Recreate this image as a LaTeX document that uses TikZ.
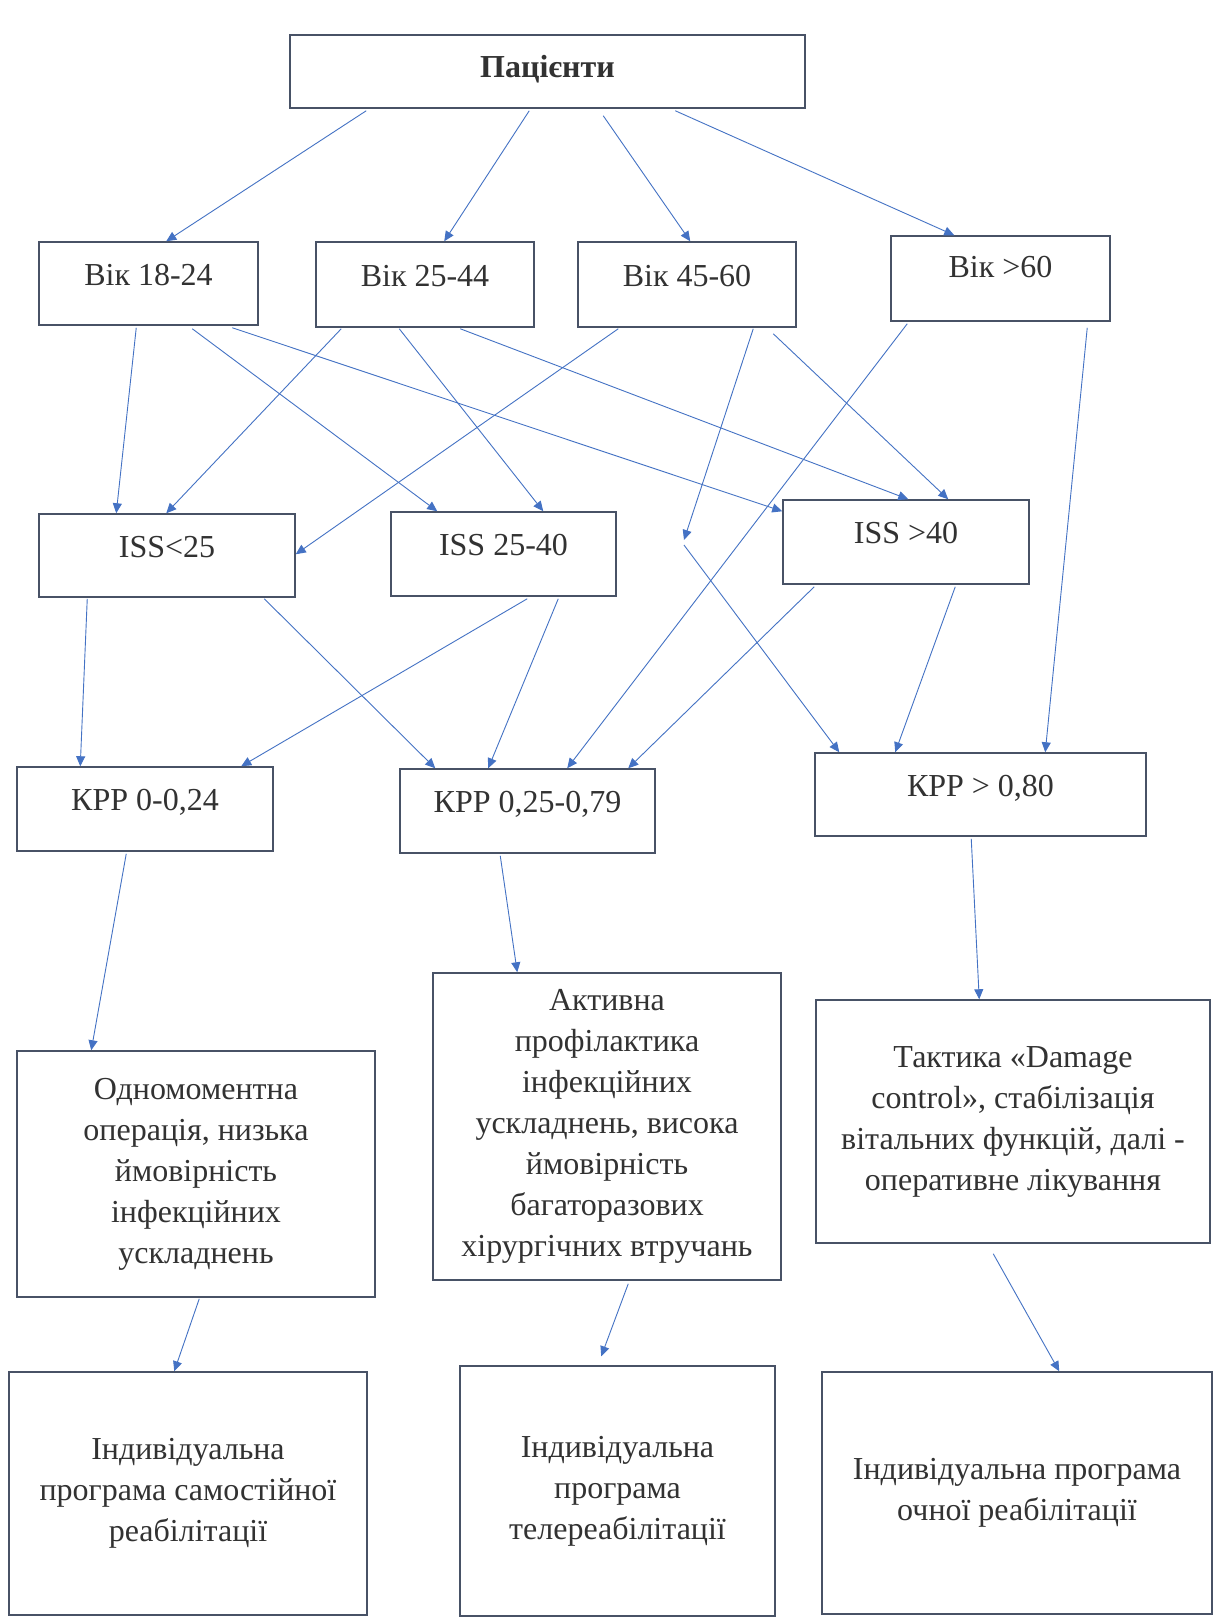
\documentclass[tikz,border=0pt]{standalone}
\usepackage{fontspec}
\setmainfont{Liberation Serif}
\newfontfamily\tnrfont{Liberation Serif}
\usetikzlibrary{arrows.meta}
\definecolor{boxc}{RGB}{72,82,102}
\definecolor{arrc}{RGB}{68,114,196}
\definecolor{txtc}{RGB}{50,50,50}
\tikzset{
  box/.style={draw=boxc, line width=1.5pt, fill=white, rectangle, inner sep=0pt,
    font=\tnrfont\fontsize{32}{41}\selectfont, text=txtc, align=center},
  one/.style={text height=22pt, text depth=19pt},
  arr/.style={draw=arrc, line width=0.9pt, -{Triangle[length=10pt,width=9pt]}}
}
\begin{document}
\begin{tikzpicture}[x=1pt,y=-1pt]
\useasboundingbox (0,0) rectangle (1217,1618);
\fill[white] (0,0) rectangle (1217,1618);

% level 0
\node[box, text height=22pt, text depth=11pt, minimum width=515pt, minimum height=73pt] (pac) at (547.5,71.5) {\textbf{Пацієнти}};
% ages
\node[box, one, minimum width=219pt, minimum height=83pt] (v1) at (148.5,283.5) {Вік 18-24};
\node[box, one, minimum width=218pt, minimum height=85pt] (v2) at (425,284.5) {Вік 25-44};
\node[box, one, minimum width=218pt, minimum height=85pt] (v3) at (687,284.5) {Вік 45-60};
\node[box, text height=22pt, text depth=25pt, minimum width=219pt, minimum height=85pt] (v4) at (1000.5,278.5) {Вік >60};
% ISS
\node[box, one, minimum width=256pt, minimum height=83pt] (i1) at (167,555.5) {ISS<25};
\node[box, one, minimum width=225pt, minimum height=84pt] (i2) at (503.5,554) {ISS 25-40};
\node[box, one, minimum width=246pt, minimum height=84pt] (i3) at (906,542) {ISS >40};
% KPP
\node[box, one, minimum width=256pt, minimum height=84pt] (k1) at (145,809) {КРР 0-0,24};
\node[box, one, minimum width=255pt, minimum height=84pt] (k2) at (527.5,811) {КРР 0,25-0,79};
\node[box, one, minimum width=331pt, minimum height=83pt] (k3) at (980.5,794.5) {КРР > 0,80};
% tactics
\node[box, minimum width=358pt, minimum height=246pt] (o1) at (196,1174) {Одномоментна\\операція, низька\\ймовірність\\інфекційних\\ускладнень};
\node[box, minimum width=348pt, minimum height=307pt] (o2) at (607,1126.5) {Активна\\профілактика\\інфекційних\\ускладнень, висока\\ймовірність\\багаторазових\\хірургічних втручань};
\node[box, minimum width=394pt, minimum height=243pt] (o3) at (1013,1121.5) {Тактика «Damage\\control», стабілізація\\вітальних функцій, далі -\\оперативне лікування};
% rehab
\node[box, minimum width=358pt, minimum height=243pt] (r1) at (188,1493.5) {Індивідуальна\\програма самостійної\\реабілітації};
\node[box, minimum width=315pt, minimum height=250pt] (r2) at (617.5,1491) {Індивідуальна\\програма\\телереабілітації};
\node[box, minimum width=390pt, minimum height=242pt] (r3) at (1017,1493) {Індивідуальна програма\\очної реабілітації};

\coordinate (m) at (684,540);

% connectors
\draw[arr] ([xshift=77pt,yshift=-2pt]pac.south west) -- ([xshift=128pt]v1.north west);
\draw[arr] ([xshift=240pt,yshift=-2pt]pac.south west) -- ([xshift=129pt]v2.north west);
\draw[arr] ([xshift=314pt,yshift=-7pt]pac.south west) -- ([xshift=113pt]v3.north west);
\draw[arr] ([xshift=386pt,yshift=-2pt]pac.south west) -- ([xshift=64pt]v4.north west);

\draw[arr] ([xshift=98pt,yshift=-2pt]v1.south west) -- ([xshift=78pt]i1.north west);
\draw[arr] ([xshift=154pt,yshift=-3pt]v1.south west) -- ([xshift=47pt]i2.north west);
\draw[arr] ([xshift=194pt,yshift=-2pt]v1.south west) -- ([yshift=-12pt]i3.north west);

\draw[arr] ([xshift=26pt,yshift=-1pt]v2.south west) -- ([xshift=128pt]i1.north west);
\draw[arr] ([xshift=84pt,yshift=-1pt]v2.south west) -- ([xshift=153pt]i2.north west);
\draw[arr] ([xshift=145pt,yshift=-1pt]v2.south west) -- ([xshift=126pt]i3.north west);

\draw[arr] ([xshift=41pt,yshift=-1pt]v3.south west) -- ([yshift=-41pt]i1.north east);
\draw[arr] ([xshift=176pt,yshift=-1pt]v3.south west) -- (m);
\draw[arr] ([yshift=-5pt]m) -- ([xshift=25pt]k3.north west);
\draw[arr] ([xshift=196pt,yshift=-6pt]v3.south west) -- ([xshift=166pt]i3.north west);

\draw[arr] ([xshift=17pt,yshift=-2pt]v4.south west) -- ([xshift=168pt]k2.north west);
\draw[arr] ([xshift=197pt,yshift=-6pt]v4.south west) -- ([xshift=231pt]k3.north west);

\draw[arr] ([xshift=49pt,yshift=-1pt]i1.south west) -- ([xshift=64pt]k1.north west);
\draw[arr] ([xshift=226pt,yshift=-1pt]i1.south west) -- ([xshift=36pt]k2.north west);
\draw[arr] ([xshift=137pt,yshift=-2pt]i2.south west) -- ([xshift=225pt]k1.north west);
\draw[arr] ([xshift=168pt,yshift=-2pt]i2.south west) -- ([xshift=89pt]k2.north west);
\draw[arr] ([xshift=32pt,yshift=-2pt]i3.south west) -- ([xshift=229pt]k2.north west);
\draw[arr] ([xshift=173pt,yshift=-2pt]i3.south west) -- ([xshift=81pt]k3.north west);

\draw[arr] ([xshift=110pt,yshift=-2pt]k1.south west) -- ([xshift=75pt]o1.north west);
\draw[arr] ([xshift=101pt,yshift=-2pt]k2.south west) -- ([xshift=85pt]o2.north west);
\draw[arr] ([xshift=157pt,yshift=-2pt]k3.south west) -- ([xshift=164pt]o3.north west);

\draw[arr] ([xshift=183pt,yshift=-1pt]o1.south west) -- ([xshift=166pt]r1.north west);
\draw[arr] ([xshift=196pt,yshift=-3pt]o2.south west) -- ([xshift=142pt,yshift=9pt]r2.north west);
\draw[arr] ([xshift=178pt,yshift=-10pt]o3.south west) -- ([xshift=238pt]r3.north west);
\end{tikzpicture}
\end{document}
